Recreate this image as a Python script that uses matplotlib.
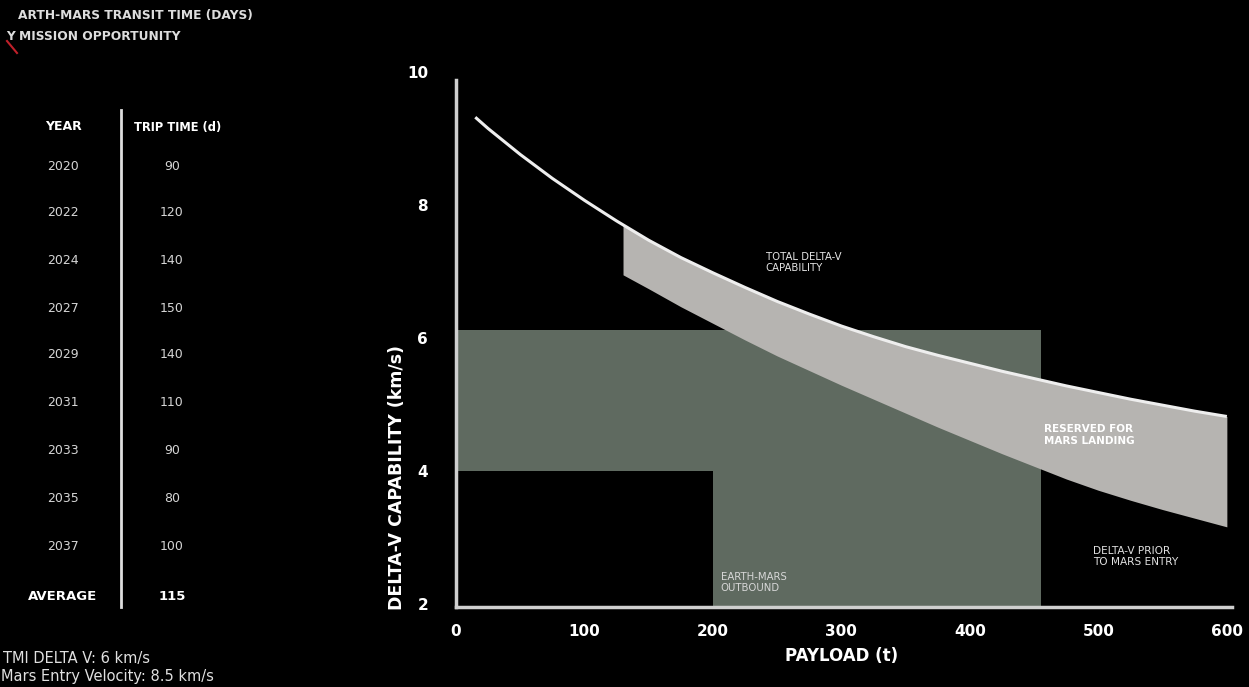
import numpy as np
import matplotlib.pyplot as plt
from matplotlib.lines import Line2D

# Data
years = ['2020', '2022', '2024', '2027', '2029', '2031', '2033', '2035', '2037']
trip_days = [90, 120, 140, 150, 140, 110, 90, 80, 100]
average_days = 115

# total delta-v capability curve (km/s) vs payload (t)
curve_payload = [15, 25, 50, 75, 100, 125, 150, 175, 200, 225, 250, 275, 300,
                 325, 350, 375, 400, 425, 450, 475, 500, 525, 550, 575, 600]
curve_dv = [9.32, 9.15, 8.76, 8.40, 8.07, 7.76, 7.47, 7.21, 6.98, 6.76, 6.55,
            6.36, 6.18, 6.02, 5.87, 5.74, 5.62, 5.50, 5.39, 5.28, 5.18, 5.08,
            4.99, 4.90, 4.82]

# band reserved for Mars landing
band_payload = [130, 150, 175, 200, 225, 250, 275, 300, 325, 350, 375, 400,
                425, 450, 475, 500, 525, 550, 575, 600]
band_top = [7.70, 7.47, 7.21, 6.98, 6.76, 6.55, 6.36, 6.18, 6.02, 5.87, 5.74,
            5.62, 5.50, 5.39, 5.28, 5.18, 5.08, 4.99, 4.90, 4.82]
band_bottom = [6.95, 6.74, 6.47, 6.22, 5.97, 5.73, 5.51, 5.29, 5.08, 4.87,
               4.66, 4.46, 4.26, 4.07, 3.88, 3.71, 3.56, 3.42, 3.29, 3.16]

# Earth-Mars outbound region (L-shaped)
outbound_payload = [0, 455, 455, 200, 200, 0]
outbound_dv = [6.12, 6.12, 1.955, 1.955, 4.0, 4.0]

x_ticks = [0, 100, 200, 300, 400, 500, 600]
y_ticks = [2, 4, 6, 8, 10]

plt.rcParams['font.family'] = ['DejaVu Sans']

W, H = 1249, 687
fig = plt.figure(figsize=(W / 100, H / 100), dpi=100, facecolor='black')


def px(x, y):
    return x / W, 1 - y / H


# Chart
ax = fig.add_axes([456 / W, 1 - 607 / H, (1232 - 456) / W, (607 - 72) / H])
ax.set_facecolor('black')
ax.set_xlim(0, 604)
ax.set_ylim(1.955, 10.0)

ax.fill(outbound_payload, outbound_dv, color='#5f6a60', lw=0, zorder=1)
ax.fill_between(band_payload, band_bottom, band_top, color='#b6b4b1', lw=0, zorder=2)
ax.plot(curve_payload, curve_dv, color='#eeeeee', lw=2.2, zorder=3,
        solid_capstyle='butt')

for s in ['top', 'right']:
    ax.spines[s].set_visible(False)
for s in ['left', 'bottom']:
    ax.spines[s].set_color('#cfcfcf')
    ax.spines[s].set_linewidth(2.5)
    ax.spines[s].set_zorder(4)
ax.spines['left'].set_bounds(1.955, 9.88)

ax.set_xticks(x_ticks)
ax.set_yticks(y_ticks)
ax.tick_params(length=0, colors='white', labelsize=11)
ax.tick_params(axis='y', pad=20)
ax.tick_params(axis='x', pad=12)
for lbl in ax.get_xticklabels() + ax.get_yticklabels():
    lbl.set_fontweight('bold')

fig.text(*px(842, 656), 'PAYLOAD (t)', color='white', fontsize=12,
         fontweight='bold', ha='center', va='center')
fig.text(*px(397, 478), 'DELTA-V CAPABILITY (km/s)', color='white', fontsize=12.5,
         fontweight='bold', ha='center', va='center', rotation=90)

ax.text(241, 7.14, 'TOTAL DELTA-V\nCAPABILITY', color='#e6e6e6', fontsize=7.3,
        ha='left', va='center', linespacing=1.15, zorder=5)
ax.text(458, 4.54, 'RESERVED FOR\nMARS LANDING', color='white', fontsize=7.5,
        fontweight='bold', ha='left', va='center', linespacing=1.15, zorder=5)
ax.text(496, 2.72, 'DELTA-V PRIOR\nTO MARS ENTRY', color='#e0e0e0', fontsize=7.6,
        ha='left', va='center', linespacing=1.15, zorder=5)
ax.text(206, 2.32, 'EARTH-MARS\nOUTBOUND', color='#d8d8d8', fontsize=7.3,
        ha='left', va='center', linespacing=1.15, zorder=5)

# Left panel: title, table, notes
fig.text(*px(18, 15), 'ARTH-MARS TRANSIT TIME (DAYS)', color='#dddddd',
         fontsize=8.8, fontweight='bold', ha='left', va='center')
fig.text(*px(6, 37), 'Y MISSION OPPORTUNITY', color='#dddddd',
         fontsize=8.8, fontweight='bold', ha='left', va='center')
fig.add_artist(Line2D([7 / W, 17 / W], [1 - 41 / H, 1 - 53 / H],
                      color='#c0202a', lw=1.5))

fig.text(*px(63, 127), 'YEAR', color='white', fontsize=9, fontweight='bold',
         ha='center', va='center')
fig.text(*px(178, 127), 'TRIP TIME (d)', color='white', fontsize=8.3,
         fontweight='bold', ha='center', va='center')
fig.add_artist(Line2D([121 / W, 121 / W], [1 - 110 / H, 1 - 607 / H],
                      color='#dddddd', lw=2))

row_y = [166, 213, 261, 308, 355, 402, 450, 498, 546]
for yr, d, ry in zip(years, trip_days, row_y):
    fig.text(*px(63, ry), yr, color='#d5d5d5', fontsize=9, ha='center', va='center')
    fig.text(*px(172, ry), str(d), color='#d5d5d5', fontsize=9, ha='center', va='center')
fig.text(*px(63, 597), 'AVERAGE', color='white', fontsize=9.5, fontweight='bold',
         ha='center', va='center')
fig.text(*px(172, 597), str(average_days), color='white', fontsize=9.5,
         fontweight='bold', ha='center', va='center')

fig.text(*px(3, 658), 'TMI DELTA V: 6 km/s', color='#e0e0e0', fontsize=10.5,
         ha='left', va='center')
fig.text(*px(1, 677), 'Mars Entry Velocity: 8.5 km/s', color='#e0e0e0',
         fontsize=10.5, ha='left', va='center')

fig.savefig('out.png', dpi=100, facecolor='black')
